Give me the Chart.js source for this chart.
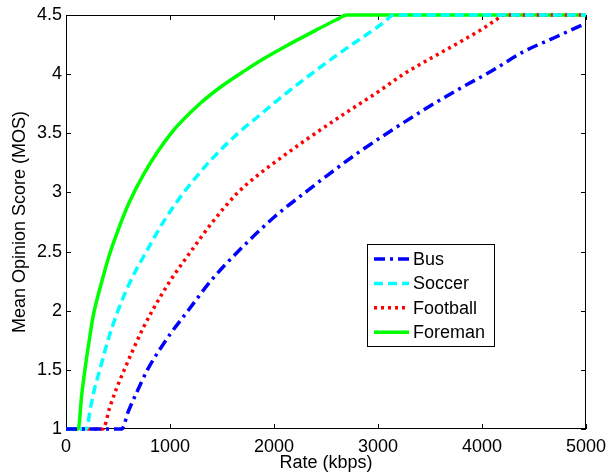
<!DOCTYPE html>
<html>
<head>
<meta charset="utf-8">
<script src="https://cdn.jsdelivr.net/npm/chart.js@4"></script>
<style>
    body { margin: 0; background: #fff; }
    #wrap { width: 613px; height: 475px; position: relative; }
</style>
</head>
<body>
<div id="wrap"><canvas id="mosChart"></canvas></div>
<script>
// values (rate in kbps, MOS)
const busRate = [0, 535, 600, 680, 783, 900, 1000, 1173, 1400, 1654, 2000, 2300, 2507, 2800, 3140, 3500, 3770, 4100, 4400, 4700, 5000];
const busMos = [1, 1, 1.15, 1.31, 1.5, 1.67, 1.8, 2.0, 2.26, 2.5, 2.79, 3.0, 3.14, 3.33, 3.53, 3.73, 3.87, 4.03, 4.19, 4.31, 4.43];

const soccerRate = [0, 195, 240, 280, 325, 400, 500, 620, 773, 950, 1133, 1400, 1654, 1844, 2062, 2386, 2700, 2950, 3060, 3150, 5000];
const soccerMos = [1, 1, 1.2, 1.36, 1.5, 1.74, 2.0, 2.25, 2.5, 2.77, 3.0, 3.28, 3.5, 3.64, 3.8, 4.02, 4.22, 4.37, 4.44, 4.5, 4.5];

const footballRate = [0, 355, 420, 480, 560, 650, 740, 830, 1000, 1200, 1400, 1654, 1850, 2000, 2300, 2668, 3000, 3246, 3500, 3805, 4000, 4120, 4220, 5000];
const footballMos = [1, 1, 1.18, 1.33, 1.5, 1.68, 1.85, 2.0, 2.25, 2.5, 2.74, 3.0, 3.15, 3.25, 3.44, 3.66, 3.85, 4.0, 4.13, 4.28, 4.38, 4.45, 4.5, 4.5];

const foremanRate = [0, 118, 150, 185, 220, 260, 330, 420, 500, 600, 750, 1010, 1300, 1500, 1720, 1900, 2100, 2400, 2600, 2700, 5000];
const foremanMos = [1, 1, 1.28, 1.52, 1.73, 1.95, 2.2, 2.48, 2.68, 2.9, 3.16, 3.5, 3.76, 3.9, 4.03, 4.13, 4.23, 4.37, 4.46, 4.5, 4.5];

const xTicks = [0, 1000, 2000, 3000, 4000, 5000];
const yTicks = [1, 1.5, 2, 2.5, 3, 3.5, 4, 4.5];

const FONT = 'Liberation Sans, Arial, Helvetica, sans-serif';

function pts(xs, ys) {
    return xs.map((x, i) => ({ x: x, y: ys[i] }));
}

// box + inward ticks on all four sides, drawn under the lines
const frame = {
    id: 'frame',
    beforeDatasetsDraw(chart) {
        const { ctx, chartArea: a, scales } = chart;
        ctx.save();
        ctx.strokeStyle = '#000';
        ctx.lineWidth = 1;
        ctx.strokeRect(a.left + 0.5, a.top + 0.5, a.right - a.left - 1, a.bottom - a.top - 1);
        ctx.beginPath();
        xTicks.forEach(v => {
            const px = Math.round(scales.x.getPixelForValue(v)) + 0.5;
            ctx.moveTo(px, a.bottom); ctx.lineTo(px, a.bottom - 5);
            ctx.moveTo(px, a.top); ctx.lineTo(px, a.top + 5);
        });
        yTicks.forEach(v => {
            const py = Math.round(scales.y.getPixelForValue(v)) + 0.5;
            ctx.moveTo(a.left, py); ctx.lineTo(a.left + 5, py);
            ctx.moveTo(a.right, py); ctx.lineTo(a.right - 5, py);
        });
        ctx.stroke();
        ctx.restore();
    }
};

// legend box inside the plot, matlab style
const boxLegend = {
    id: 'boxLegend',
    afterDraw(chart) {
        const { ctx } = chart;
        const left = 367, top = 244, w = 127, h = 102;
        ctx.save();
        ctx.fillStyle = '#fff';
        ctx.fillRect(left, top, w, h);
        ctx.strokeStyle = '#000';
        ctx.lineWidth = 1;
        ctx.strokeRect(left + 0.5, top + 0.5, w, h);
        ctx.font = '18px ' + FONT;
        ctx.textBaseline = 'middle';
        chart.data.datasets.forEach((ds, i) => {
            const y = top + 15 + i * 24.4;
            ctx.strokeStyle = ds.borderColor;
            ctx.lineWidth = ds.borderWidth;
            ctx.setLineDash(ds.borderDash || []);
            ctx.beginPath();
            ctx.moveTo(left + 7, y);
            ctx.lineTo(left + 42, y);
            ctx.stroke();
            ctx.setLineDash([]);
            ctx.fillStyle = '#000';
            ctx.fillText(ds.label, left + 46, y + 1);
        });
        ctx.restore();
    }
};

const ctx = document.getElementById('mosChart').getContext('2d');
new Chart(ctx, {
    type: 'line',
    data: {
        datasets: [
            {
                label: 'Bus',
                data: pts(busRate, busMos),
                borderColor: '#0000FF',
                borderWidth: 3.5,
                borderDash: [11, 5, 3, 5]
            },
            {
                label: 'Soccer',
                data: pts(soccerRate, soccerMos),
                borderColor: '#00FFFF',
                borderWidth: 3.5,
                borderDash: [9, 5]
            },
            {
                label: 'Football',
                data: pts(footballRate, footballMos),
                borderColor: '#FF0000',
                borderWidth: 3.5,
                borderDash: [3, 4]
            },
            {
                label: 'Foreman',
                data: pts(foremanRate, foremanMos),
                borderColor: '#00FF00',
                borderWidth: 3.5
            }
        ]
    },
    options: {
        responsive: true,
        maintainAspectRatio: false,
        animation: false,
        layout: { padding: { top: 15, right: 21, left: 0, bottom: 0 } },
        elements: {
            point: { radius: 0 },
            line: { cubicInterpolationMode: 'monotone', borderCapStyle: 'butt', fill: false }
        },
        datasets: { line: { clip: 4 } },
        plugins: {
            legend: { display: false },
            tooltip: { enabled: false }
        },
        scales: {
            x: {
                type: 'linear',
                min: 0,
                max: 5000,
                afterFit: s => { s.height = 46; },
                afterBuildTicks: s => { s.ticks = xTicks.map(v => ({ value: v })); },
                grid: { display: false, drawTicks: false },
                border: { display: false },
                ticks: {
                    color: '#000', font: { family: FONT, size: 18 }, padding: 7, maxRotation: 0,
                    callback: v => String(v)
                },
                title: { display: true, text: 'Rate (kbps)', color: '#000', font: { family: FONT, size: 18 }, padding: { top: 0, bottom: 1 } }
            },
            y: {
                min: 1,
                max: 4.5,
                afterFit: s => { s.width = 66; },
                afterBuildTicks: s => { s.ticks = yTicks.map(v => ({ value: v })); },
                grid: { display: false, drawTicks: false },
                border: { display: false },
                ticks: {
                    color: '#000', font: { family: FONT, size: 18 }, padding: 4,
                    callback: v => String(v)
                },
                title: { display: true, text: 'Mean Opinion Score (MOS)', color: '#000', font: { family: FONT, size: 18 }, padding: { top: 9, bottom: 0 } }
            }
        }
    },
    plugins: [frame, boxLegend]
});
</script>
</body>
</html>
